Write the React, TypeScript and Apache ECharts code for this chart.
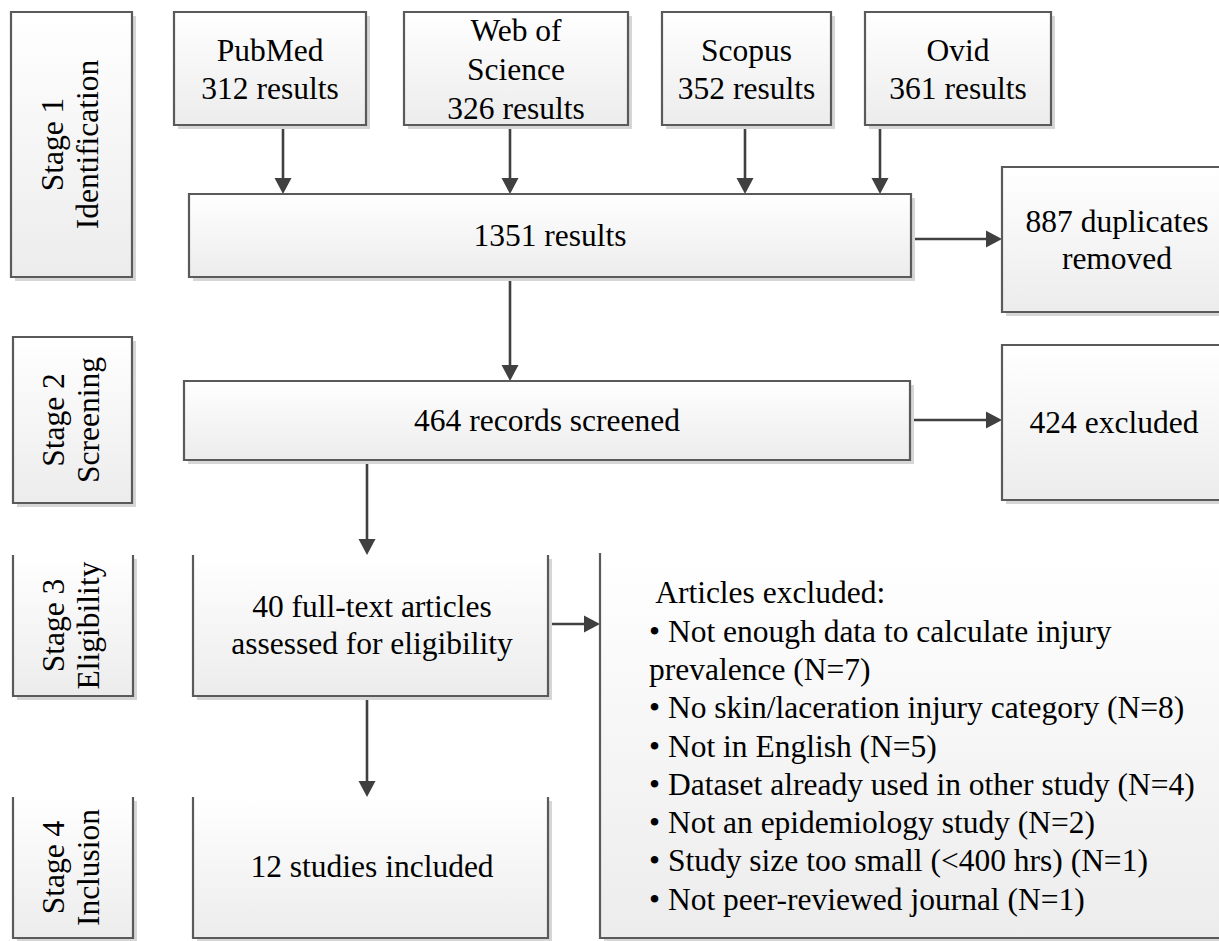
import React, { useEffect, useRef } from "react";
import * as echarts from "echarts";

// ---- data ----
const STAGE_LABELS = ["Stage 1\nIdentification", "Stage 2\nScreening", "Stage 3\nEligibility", "Stage 4\nInclusion"];
const SOURCE_NAMES = ["PubMed", "Web of\nScience", "Scopus", "Ovid"];
const SOURCE_COUNTS = [312, 326, 352, 361];
const TOTAL_RESULTS = 1351;
const DUPLICATES_REMOVED = 887;
const RECORDS_SCREENED = 464;
const SCREEN_EXCLUDED = 424;
const FULLTEXT_ASSESSED = 40;
const STUDIES_INCLUDED = 12;
const EXCLUSION_REASONS = [
  "Not enough data to calculate injury\nprevalence",
  "No skin/laceration injury category",
  "Not in English",
  "Dataset already used in other study",
  "Not an epidemiology study",
  "Study size too small (<400 hrs)",
  "Not peer-reviewed journal",
];
const EXCLUSION_COUNTS = [7, 8, 5, 4, 2, 1, 1];

// ---- layout ----
const FONT = "Liberation Serif, Times New Roman, serif";
const FS = 31.5;
const STROKE = "#5a5a5a";
const ARROW = "#404040";

type Box = { x1: number; y1: number; x2: number; y2: number; open?: boolean };

const stageBoxes: Box[] = [
  { x1: 11, y1: 12, x2: 132, y2: 277 },
  { x1: 13, y1: 337, x2: 132, y2: 503 },
  { x1: 13, y1: 555, x2: 133, y2: 696, open: true },
  { x1: 13, y1: 797, x2: 133, y2: 938, open: true },
];
const sourceBoxes: Box[] = [
  { x1: 174, y1: 12, x2: 366, y2: 125 },
  { x1: 404, y1: 12, x2: 628, y2: 125 },
  { x1: 662, y1: 12, x2: 831, y2: 125 },
  { x1: 865, y1: 12, x2: 1051, y2: 125 },
];
const sourceArrowX = [283, 510, 745, 880];
const totalBox: Box = { x1: 189, y1: 194, x2: 911, y2: 277 };
const dupBox: Box = { x1: 1002, y1: 167, x2: 1236, y2: 312 };
const screenBox: Box = { x1: 184, y1: 381, x2: 910, y2: 460 };
const exclBox: Box = { x1: 1002, y1: 345, x2: 1236, y2: 500 };
const fullBox: Box = { x1: 193, y1: 555, x2: 548, y2: 696, open: true };
const inclBox: Box = { x1: 193, y1: 797, x2: 548, y2: 938, open: true };
const reasonBox: Box = { x1: 600, y1: 553, x2: 1236, y2: 938, open: true };

function boxEls(b: Box): any[] {
  const w = b.x2 - b.x1;
  const h = b.y2 - b.y1;
  const els: any[] = [];
  els.push({
    type: "rect",
    shape: { x: b.x1 + 4, y: b.y1 + 4, width: w, height: h },
    style: { fill: "#d6d6d6" },
    silent: true,
  });
  els.push({
    type: "rect",
    shape: { x: b.x1, y: b.y1, width: w, height: h },
    style: {
      fill: new echarts.graphic.LinearGradient(0, 0, 0, 1, [
        { offset: 0, color: "#ffffff" },
        { offset: 1, color: "#ececec" },
      ]),
      stroke: b.open ? null : STROKE,
      lineWidth: b.open ? 0 : 2.2,
    },
    silent: true,
  });
  if (b.open) {
    els.push({
      type: "polyline",
      shape: { points: [[b.x1, b.y1], [b.x1, b.y2], [b.x2, b.y2], [b.x2, b.y1]] },
      style: { stroke: STROKE, lineWidth: 2.2, fill: null },
      silent: true,
    });
  }
  return els;
}

function textEl(text: string, x: number, y: number, opts: any = {}): any {
  return {
    type: "text",
    x,
    y,
    rotation: opts.rotation || 0,
    silent: true,
    style: {
      text,
      fill: "#000",
      fontFamily: FONT,
      fontSize: opts.fontSize || FS,
      lineHeight: opts.lineHeight || 38,
      align: opts.align || "center",
      verticalAlign: "middle",
      textAlign: opts.align || "center",
      textVerticalAlign: "middle",
    },
  };
}

function vArrow(x: number, y1: number, y2: number): any[] {
  return [
    { type: "line", shape: { x1: x, y1, x2: x, y2: y2 - 14 }, style: { stroke: ARROW, lineWidth: 2.6 }, silent: true },
    {
      type: "polygon",
      shape: { points: [[x - 8.5, y2 - 16], [x + 8.5, y2 - 16], [x, y2]] },
      style: { fill: ARROW },
      silent: true,
    },
  ];
}
function hArrow(y: number, x1: number, x2: number): any[] {
  return [
    { type: "line", shape: { x1, y1: y, x2: x2 - 14, y2: y }, style: { stroke: ARROW, lineWidth: 2.6 }, silent: true },
    {
      type: "polygon",
      shape: { points: [[x2 - 16, y - 8.5], [x2 - 16, y + 8.5], [x2, y]] },
      style: { fill: ARROW },
      silent: true,
    },
  ];
}

const cx = (b: Box) => (b.x1 + b.x2) / 2;
const cy = (b: Box) => (b.y1 + b.y2) / 2;

function buildElements(): any[] {
  const els: any[] = [];
  SOURCE_NAMES.forEach((_, i) => els.push(...vArrow(sourceArrowX[i], sourceBoxes[i].y2, totalBox.y1)));
  els.push(...hArrow(239, totalBox.x2, dupBox.x1));
  els.push(...vArrow(510, totalBox.y2, screenBox.y1));
  els.push(...hArrow(420, screenBox.x2, exclBox.x1));
  els.push(...vArrow(367, screenBox.y2, fullBox.y1));
  els.push(...hArrow(624, fullBox.x2, reasonBox.x1));
  els.push(...vArrow(367, fullBox.y2, inclBox.y1));

  STAGE_LABELS.forEach((label, i) => {
    const b = stageBoxes[i];
    els.push(...boxEls(b));
    els.push(textEl(label, cx(b) - 2, cy(b), { rotation: Math.PI / 2, lineHeight: 35 }));
  });

  SOURCE_NAMES.forEach((name, i) => {
    const b = sourceBoxes[i];
    els.push(...boxEls(b));
    els.push(textEl(`${name}\n${SOURCE_COUNTS[i]} results`, cx(b), cy(b) + 1, { lineHeight: i === 1 ? 39 : 38 }));
  });

  els.push(...boxEls(totalBox));
  els.push(textEl(`${TOTAL_RESULTS} results`, cx(totalBox), cy(totalBox)));

  els.push(...boxEls(dupBox));
  els.push(textEl(`${DUPLICATES_REMOVED} duplicates\nremoved`, 1117, 240, { lineHeight: 37 }));

  els.push(...boxEls(screenBox));
  els.push(textEl(`${RECORDS_SCREENED} records screened`, cx(screenBox), cy(screenBox)));

  els.push(...boxEls(exclBox));
  els.push(textEl(`${SCREEN_EXCLUDED} excluded`, 1114, 422));

  els.push(...boxEls(fullBox));
  els.push(textEl(`${FULLTEXT_ASSESSED} full-text articles\nassessed for eligibility`, 372, 625, { lineHeight: 37 }));

  els.push(...boxEls(inclBox));
  els.push(textEl(`${STUDIES_INCLUDED} studies included`, 372, 866));

  els.push(...boxEls(reasonBox));
  const lines: string[] = [" Articles excluded:"];
  EXCLUSION_REASONS.forEach((r, i) => {
    lines.push(`\u2022 ${r} (N=${EXCLUSION_COUNTS[i]})`);
  });
  els.push(textEl(lines.join("\n"), 649, 746, { align: "left", lineHeight: 38.3 }));

  return els;
}

export default function App() {
  const ref = useRef<HTMLDivElement>(null);
  useEffect(() => {
    document.body.style.margin = "0";
    const chart = echarts.init(ref.current!, null, { renderer: "svg", width: 1219, height: 941 });
    chart.setOption({
      animation: false,
      backgroundColor: "#ffffff",
      graphic: { elements: buildElements() },
    });
    return () => chart.dispose();
  }, []);
  return (
    <div
      ref={ref}
      style={{ position: "absolute", left: 0, top: 0, width: 1219, height: 941, overflow: "hidden" }}
    />
  );
}
